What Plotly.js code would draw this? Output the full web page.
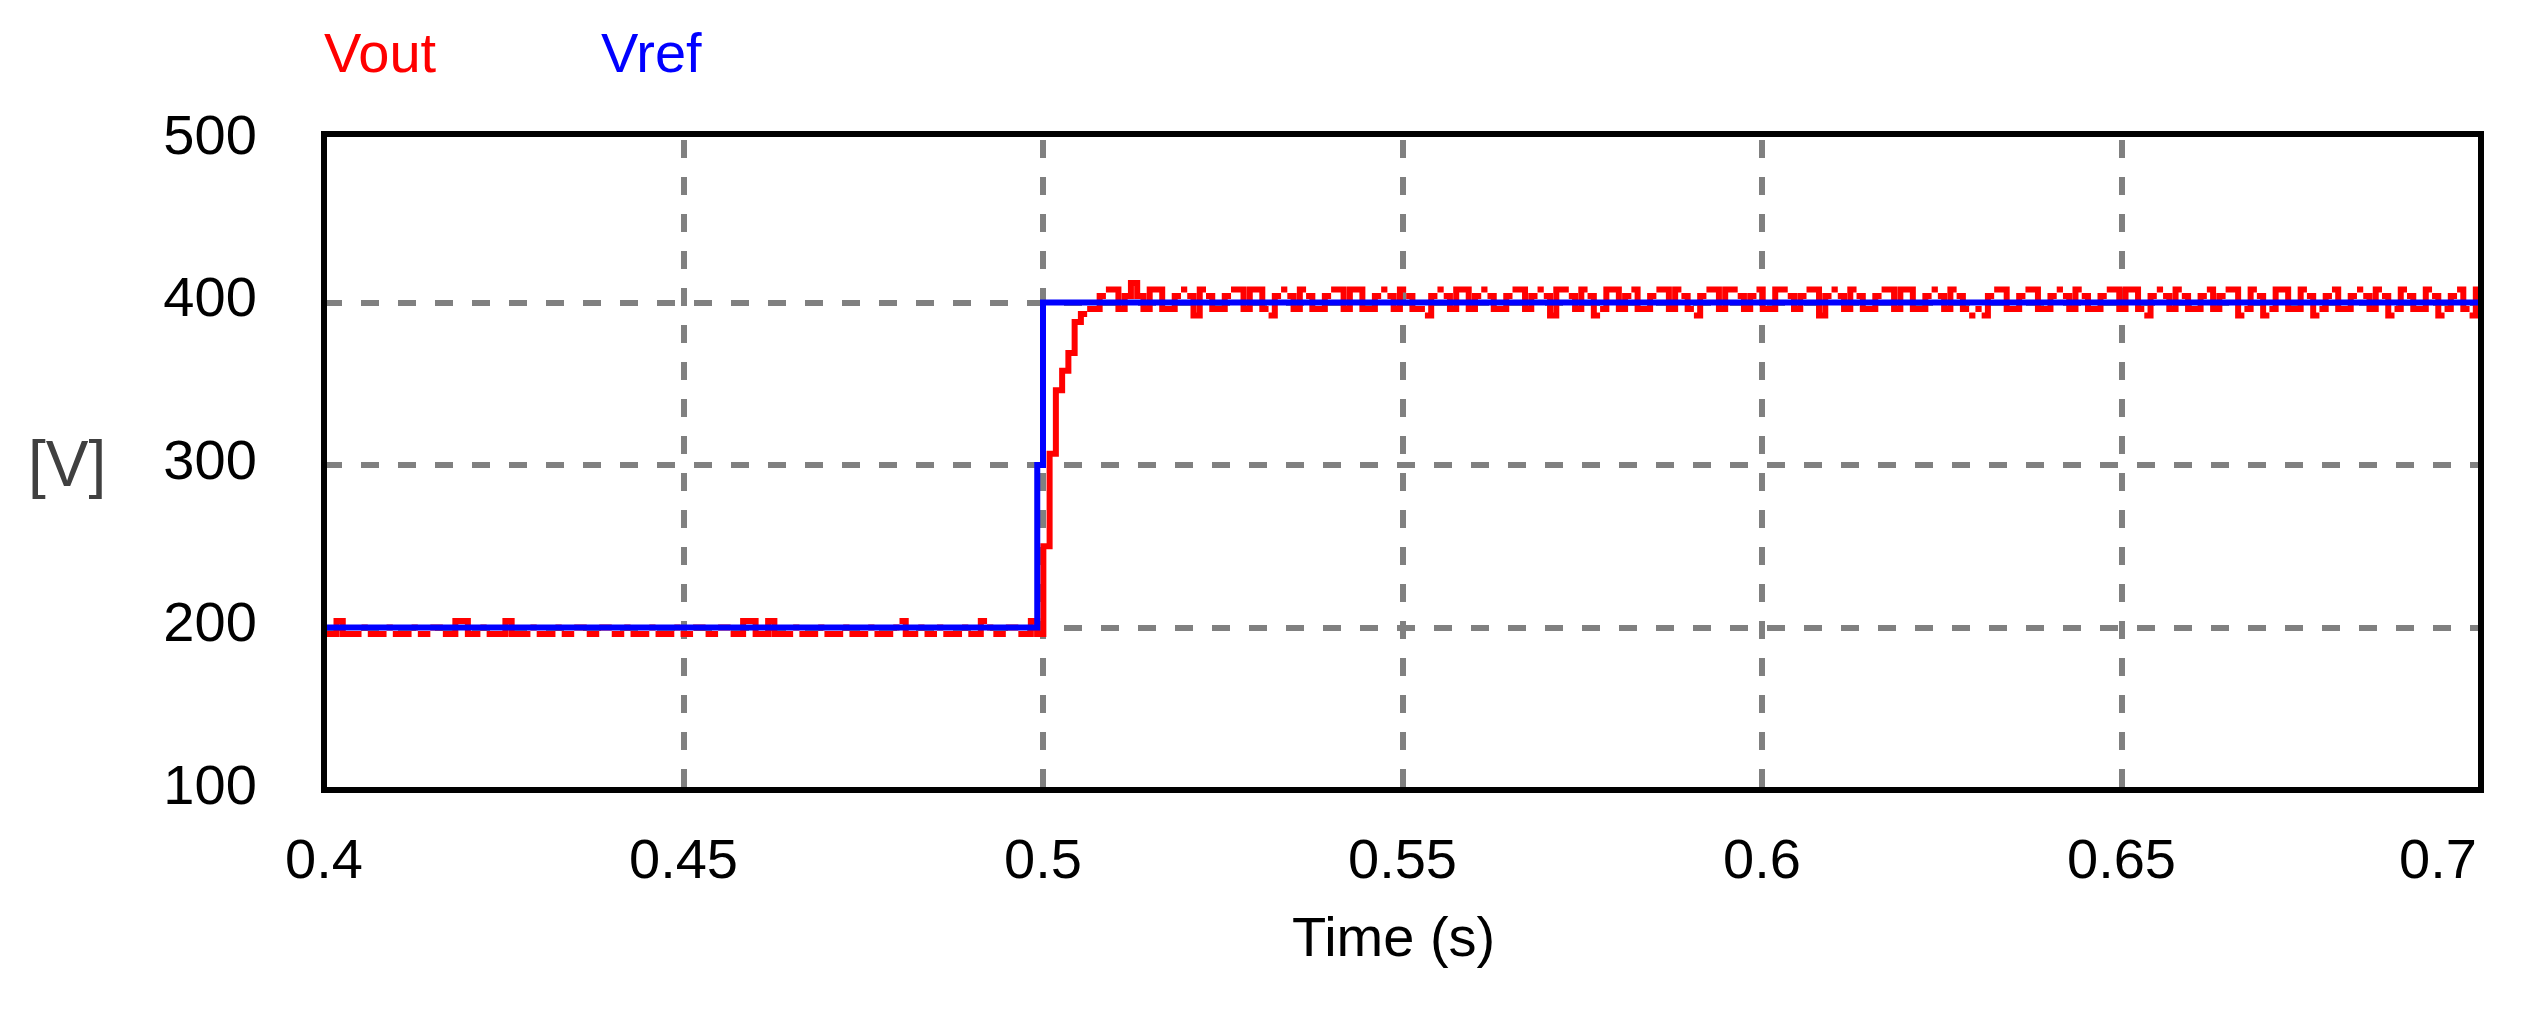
<!DOCTYPE html>
<html>
<head>
<meta charset="utf-8">
<script src="https://cdn.plot.ly/plotly-3.0.1.min.js"></script>
<style>
  html, body { margin: 0; padding: 0; background: #ffffff; }
  #chart { width: 2524px; height: 1011px; }
</style>
</head>
<body>
<div id="chart"></div>
<script>
// ---------------- DATA ----------------
const seriesNames = ['Vout', 'Vref'];

// Vref: step reference (time in s, value in V)
const vrefTime  = [0.4, 0.4992, 0.5, 0.7];
const vrefValue = [200, 300, 400, 400];

// Vout: sampled output voltage, one sample per SAMPLE_STEP seconds from START_TIME
const START_TIME  = 0.4;
const SAMPLE_STEP = 0.00087;

// before the step (0.4 s .. 0.5 s)
const voutBefore = [
  196,196,204,196,196,196,200,196,196,196,
  200,196,196,196,200,196,196,200,200,196,
  196,204,204,196,196,200,196,196,196,204,
  196,196,196,200,196,196,196,200,196,196,
  200,200,196,196,200,200,196,196,200,196,
  196,196,200,196,196,196,200,196,196,200,
  200,196,196,200,200,196,196,204,204,196,
  196,204,196,196,196,200,196,196,196,200,
  196,196,196,200,196,196,196,200,196,196,
  196,200,204,196,196,200,196,196,200,196,
  196,196,200,196,196,204,200,196,196,200,
  200,196,196,204,196
];
// rise after the reference step
const voutRise = [250,307,346,358,369,388,393,396,396];
// steady state around 400 V
const voutAfter = [
  404,408,408,396, 404,412,404,396, 408,408,396,396, 404,408,404,392,
  408,404,396,396, 404,408,408,396, 408,408,396,392, 404,408,404,396,
  408,404,396,396, 404,408,408,396, 408,408,396,396, 404,408,404,396,
  408,404,396,396, 392,404,408,404, 396,408,408,396, 404,408,404,396,
  396,404,408,408, 396,404,408,404, 392,408,408,404, 396,408,404,392,
  396,408,408,396, 404,408,396,396, 404,408,408,396, 408,404,396,392,
  404,408,408,396, 408,408,404,396, 404,408,396,396, 408,408,404,396,
  404,408,408,392, 404,408,404,396, 408,404,396,396, 404,408,408,396,
  408,408,396,396, 404,408,404,396, 408,404,396,392, 396,392,404,408,
  408,396,396,404, 408,408,396,396, 404,408,404,396, 408,404,396,396,
  404,408,408,396, 408,408,396,392, 404,408,404,396, 408,404,396,396,
  404,408,396,404, 408,408,392,396, 408,404,392,396, 408,408,396,396,
  408,404,392,396, 404,408,396,396, 404,408,404,396, 408,404,392,396,
  408,404,396,396, 408,404,392,396, 404,408,396,392, 408
];

const xTickVals = [0.4, 0.45, 0.5, 0.55, 0.6, 0.65, 0.7];
const xTickText = ['0.4', '0.45', '0.5', '0.55', '0.6', '0.65', '0.7'];
const yTickVals = [100, 200, 300, 400, 500];
const yTickText = ['100', '200', '300', '400', '500'];

const xTitle = 'Time (s)';
const yTitle = '[V]';

// ---------------- BUILD ----------------
const vout = voutBefore.concat(voutRise, voutAfter);
// pixel-like staircase: one horizontal run per sample,
// adjacent one-level changes just touch, larger jumps are joined vertically
const rx = [], ry = [];
for (let i = 0; i < vout.length; i++) {
  const t0 = START_TIME + i * SAMPLE_STEP;
  const t1 = t0 + SAMPLE_STEP;
  if (i > 0) {
    const d = Math.abs(vout[i] - vout[i - 1]);
    if (d > 0 && d <= 4.5) { rx.push(null); ry.push(null); }
  }
  rx.push(t0, t1);
  ry.push(vout[i], vout[i]);
}

const FONT = 'Liberation Sans, Arial, sans-serif';

const traces = [
  {
    x: rx, y: ry, name: seriesNames[0], type: 'scatter', mode: 'lines',
    line: { color: '#ff0000', width: 6, shape: 'linear' },
    connectgaps: false, hoverinfo: 'skip'
  },
  {
    x: vrefTime, y: vrefValue, name: seriesNames[1], type: 'scatter', mode: 'lines',
    line: { color: '#0000ff', width: 6, shape: 'hv' }, hoverinfo: 'skip'
  }
];

const layout = {
  width: 2524, height: 1011,
  margin: { l: 324, r: 43, t: 140, b: 221, pad: 0 },
  paper_bgcolor: '#ffffff', plot_bgcolor: '#ffffff',
  showlegend: false,
  font: { family: FONT, size: 56, color: '#000000' },
  xaxis: {
    range: [0.4, 0.7], tickmode: 'array', tickvals: xTickVals,
    ticktext: xTickText.slice(0, -1).concat(['']),
    ticks: 'outside', ticklen: 20, tickcolor: 'rgba(0,0,0,0)',
    showline: false, zeroline: false,
    showgrid: true, gridcolor: '#808080', gridwidth: 6, griddash: '18px,19px',
    tickfont: { family: FONT, size: 56, color: '#000000' }
  },
  yaxis: {
    range: [100, 500], tickmode: 'array', tickvals: yTickVals, ticktext: yTickText,
    ticks: 'outside', ticklen: 55, tickcolor: 'rgba(0,0,0,0)',
    ticklabelshift: -6,
    showline: false, zeroline: false,
    showgrid: true, gridcolor: '#808080', gridwidth: 6, griddash: '18px,19px',
    tickfont: { family: FONT, size: 56, color: '#000000' }
  },
  shapes: [
    { type: 'rect', xref: 'paper', yref: 'paper', x0: 0, x1: 1, y0: 0, y1: 1.0092,
      line: { color: '#000000', width: 6 }, fillcolor: 'rgba(0,0,0,0)', layer: 'above' }
  ],
  annotations: [
    { text: seriesNames[0], xref: 'paper', yref: 'paper', x: 0.0264, y: 1.135,
      xanchor: 'center', yanchor: 'middle', showarrow: false,
      font: { family: FONT, size: 56, color: '#ff0000' } },
    { text: seriesNames[1], xref: 'paper', yref: 'paper', x: 0.152, y: 1.135,
      xanchor: 'center', yanchor: 'middle', showarrow: false,
      font: { family: FONT, size: 56, color: '#0000ff' } },
    { text: xTitle, xref: 'paper', yref: 'paper', x: 0.496, y: -0.226,
      xanchor: 'center', yanchor: 'middle', showarrow: false,
      font: { family: FONT, size: 56, color: '#000000' } },
    { text: yTitle, xref: 'paper', yref: 'paper', x: -0.119, y: 0.5015,
      xanchor: 'center', yanchor: 'middle', showarrow: false,
      font: { family: FONT, size: 64, color: '#404040' } },
    { text: xTickText[xTickText.length - 1], xref: 'x', yref: 'paper', x: xTickVals[xTickVals.length - 1], y: -0.106,
      xanchor: 'right', yanchor: 'middle', showarrow: false, xshift: -2,
      font: { family: FONT, size: 56, color: '#000000' } }
  ]
};

Plotly.newPlot('chart', traces, layout, { staticPlot: true, displayModeBar: false });
</script>
</body>
</html>
